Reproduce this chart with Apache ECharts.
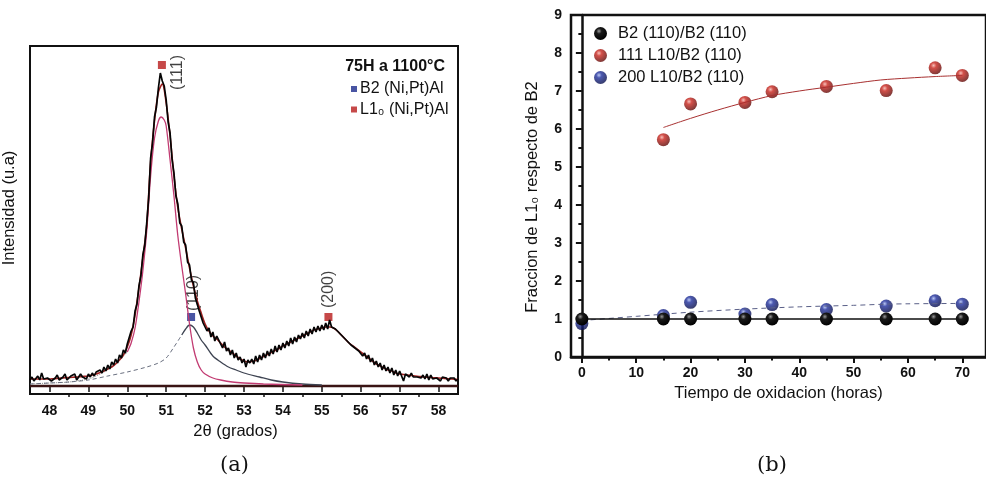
<!DOCTYPE html>
<html>
<head>
<meta charset="utf-8">
<script src="https://cdn.jsdelivr.net/npm/echarts@6/dist/echarts.min.js"></script>
<style>
  html, body { margin: 0; padding: 0; background: #fff; }
  #chart { width: 986px; height: 480px; }
</style>
</head>
<body>
<div id="chart"></div>
<script>
// ---------- (a) XRD pattern, 75 h at 1100 °C ----------
const thetaStart = 47.5;
const thetaStep = 0.05;
// measured intensity, one value every 0.05°
const xrdCounts = [
  6, 9, 5, 7, 10, 6, 13, 7, 5, 8,
  9, 5, 7, 8, 11, 6, 7, 9, 12, 6, 7, 10, 8, 12, 6, 9, 12, 9, 10, 7,
  12, 9, 13, 10, 14, 12, 16, 13, 19, 15, 21, 17, 24, 21, 27, 23, 31, 28, 36, 33,
  42, 44, 55, 59, 75, 82, 100, 110, 131, 141, 163, 188, 228, 243, 269, 279, 298, 313, 305, 300,
  286, 264, 253, 227, 213, 190, 182, 163, 160, 144, 141, 124, 121, 106, 103, 88, 89, 75, 77, 63,
  65, 55, 58, 49, 54, 45, 50, 46, 45, 38, 44, 35, 38, 31, 36, 28, 33, 26, 29, 23,
  27, 19, 26, 23, 27, 22, 30, 24, 31, 26, 33, 28, 35, 30, 37, 32, 40, 34, 41, 36,
  43, 38, 45, 40, 48, 42, 49, 44, 51, 47, 53, 48, 55, 50, 57, 52, 59, 54, 60, 55,
  61, 56, 63, 57, 66, 59, 58, 57, 56, 53, 52, 49, 48, 45, 44, 41, 41, 38, 38, 35,
  37, 30, 33, 27, 31, 24, 28, 21, 25, 19, 23, 16, 21, 15, 19, 13, 18, 11, 16, 10,
  15, 10, 5, 12, 13, 9, 13, 9, 11, 9, 10, 8, 11, 7, 12, 6, 11, 7, 9, 8,
  10, 5, 9, 7, 8, 5, 8, 6, 8, 5, 7
];
// cumulative peak fit, one value every 0.1°
const fitStep = 0.1;
const cumulativeFit = [
  7, 7, 7, 7, 7,
  7, 7.3, 7.6, 8, 8.2, 8.5, 8.8, 9, 9.3, 9.6,
  10, 11, 12, 13.5, 15, 17, 19, 22, 26, 31,
  39, 51, 71, 98, 128, 161, 224, 265, 294, 302,
  283, 250, 210, 178, 157, 138, 118, 100, 85, 73,
  62, 55, 50, 47, 43, 39, 36, 33, 30, 27,
  25, 24, 24.5, 25.5, 27.5, 29.5, 31.5, 33.5, 35.5, 37.5,
  40, 42, 44, 46, 48, 50, 52, 54, 56, 57,
  58, 59, 59, 58, 55, 51, 47, 43, 40, 37,
  34, 31, 28, 25, 22, 20, 18, 16, 15, 13,
  12, 11.5, 11, 10.5, 10, 9.5, 9, 8.8, 8.5, 8.2,
  8, 7.7, 7.4, 7.1, 6.8, 6.5
];
// L1₀ (111) component
const l10TailTheta = [47.5, 48.0, 48.5, 49.0, 49.2, 49.4, 49.6, 49.8, 50.0];
const l10TailValue = [2, 3, 4, 7, 10, 14, 19, 26, 34];
const l10PeakTheta = [50.0, 50.1, 50.2, 50.3, 50.4, 50.5, 50.6, 50.7, 50.8, 50.87, 50.95, 51.0, 51.1, 51.2, 51.3, 51.4, 51.5, 51.6, 51.7, 51.8, 51.9, 52.0, 52.2, 52.4, 52.7, 53.0, 53.5, 54.5];
const l10PeakValue = [34, 43, 58, 84, 115, 155, 210, 248, 265, 269, 266, 260, 226, 190, 150, 120, 92, 62, 38, 24, 16, 12, 8, 6, 4, 3, 2, 1];
// B2 (110) component
const b2LeftTheta = [47.5, 48.0, 48.5, 49.0, 49.5, 50.0, 50.5, 50.8, 51.0, 51.2, 51.4];
const b2LeftValue = [2, 3, 4, 6, 10, 14, 19, 23, 28, 39, 51];
const b2RightTheta = [51.4, 51.5, 51.6, 51.7, 51.8, 51.9, 52.0, 52.2, 52.4, 52.6, 52.8, 53.0, 53.4, 53.7, 54.0, 54.5, 55.0];
const b2RightValue = [51, 57, 61, 59, 53, 46, 41, 30, 24, 19, 16, 13, 9, 6, 4, 2, 1];
// reflection markers
const l10PeakLabels = ['(111)', '(200)'];
const l10PeakPos = [[50.89, 321], [55.17, 69]];
const b2PeakLabels = ['(110)'];
const b2PeakPos = [[51.64, 69]];
const thetaTicks = [48, 49, 50, 51, 52, 53, 54, 55, 56, 57, 58];
const thetaMinorTicks = [48.5, 49.5, 50.5, 51.5, 52.5, 53.5, 54.5, 55.5, 56.5, 57.5];

// ---------- (b) L1₀ fraction vs oxidation time ----------
const hours = [0, 15, 20, 30, 35, 45, 56, 65, 70];
const ratioB2 = [1, 1, 1, 1, 1, 1, 1, 1, 1];
const ratio111 = [null, 5.72, 6.66, 6.70, 6.98, 7.12, 7.01, 7.61, 7.41];
const ratio200 = [0.88, 1.09, 1.44, 1.13, 1.38, 1.25, 1.34, 1.48, 1.39];
const fit111Hours = [15, 20, 25, 30, 35, 40, 45, 50, 55, 60, 65, 70];
const fit111Value = [6.04, 6.28, 6.50, 6.70, 6.88, 7.00, 7.10, 7.20, 7.29, 7.34, 7.38, 7.41];
const fit200Hours = [0, 10, 20, 30, 40, 50, 56, 60, 70];
const fit200Value = [0.96, 1.07, 1.18, 1.26, 1.32, 1.36, 1.39, 1.40, 1.41];
const hourTicks = [0, 10, 20, 30, 40, 50, 60, 70];
const hourMinorTicks = [5, 15, 25, 35, 45, 55, 65];

const FONT = "'Liberation Sans', Arial, sans-serif";
const zip = (xs, ys) => xs.map((x, i) => [x, ys[i]]);
const xrdData = xrdCounts.map((v, i) => [+(thetaStart + i * thetaStep).toFixed(2), v]);
const fitData = cumulativeFit.map((v, i) => [+(thetaStart + i * fitStep).toFixed(2), v]);

const sphere = (light, mid, dark) => ({
  type: 'radial', x: 0.38, y: 0.32, r: 0.7,
  colorStops: [{ offset: 0, color: light }, { offset: 0.3, color: mid }, { offset: 1, color: dark }]
});
const blackBall = sphere('#9a9a9a', '#1a1a1a', '#000000');
const redBall = sphere('#f4b0a8', '#c8241c', '#5e0806');
const blueBall = sphere('#a8b8f0', '#1f2f9c', '#060c48');

// label offsets for the rotated reflection indices
const l10LabelOffsets = [[20, 29], [4, -5]];
const b2LabelOffsets = [[7, -2]];
const markerItems = (pos, labels, offsets) => pos.map((p, i) => ({
  value: p,
  label: { show: true, formatter: labels[i], position: offsets[i] }
}));
const markerLabel = {
  rotate: 90, align: 'left', verticalAlign: 'middle',
  fontFamily: FONT, fontSize: 16, color: '#111'
};
const nameStyle = { fontFamily: FONT, fontSize: 16.5, color: '#111' };

const chart = echarts.init(document.getElementById('chart'), null, { renderer: 'canvas' });
const option = {
  animation: false,
  backgroundColor: '#fff',
  textStyle: { fontFamily: FONT },
  title: {
    text: '75H a 1100°C',
    right: 536, top: 54,
    textStyle: { fontFamily: FONT, fontSize: 16, fontWeight: 'bold', color: '#111' }
  },
  legend: [
    {
      data: ['B2 (Ni,Pt)Al', 'L1₀ (Ni,Pt)Al'],
      orient: 'vertical', left: 346, top: 76, itemGap: 4.5,
      icon: 'rect', itemWidth: 6, itemHeight: 6,
      textStyle: { fontFamily: FONT, fontSize: 16, color: '#111', padding: [0, 0, 0, -2] }
    },
    {
      data: ['B2 (110)/B2 (110)', '111 L10/B2 (110)', '200 L10/B2 (110)'],
      orient: 'vertical', left: 589, top: 20, itemGap: 5,
      icon: 'circle', itemWidth: 13, itemHeight: 13,
      textStyle: { fontFamily: FONT, fontSize: 16.5, color: '#111', padding: [0, 0, 0, 6] }
    }
  ],
  grid: [
    { left: 29, top: 46, width: 429, height: 348, show: true, borderColor: '#111', borderWidth: 2, backgroundColor: 'transparent' },
    { left: 571, top: 15, width: 420, height: 342, show: true, borderColor: '#111', borderWidth: 2.5, backgroundColor: 'transparent' }
  ],
  xAxis: [
    {
      gridIndex: 0, type: 'value', position: 'bottom', min: 47.5, max: 58.5,
      name: '2θ (grados)', nameLocation: 'middle', nameGap: 24,
      nameTextStyle: Object.assign({ padding: [0, 17, 0, 0] }, nameStyle),
      axisLine: { show: true, lineStyle: { color: '#111', width: 2 } },
      axisTick: { show: true, inside: false, length: 6, customValues: thetaTicks, lineStyle: { color: '#111', width: 1.5 } },
      axisLabel: { customValues: thetaTicks, margin: 10, fontFamily: FONT, fontSize: 14, fontWeight: 'bold', color: '#111' },
      splitLine: { show: false }
    },
    {
      gridIndex: 0, type: 'value', position: 'bottom', min: 47.5, max: 58.5,
      axisLine: { show: false },
      axisTick: { show: true, length: 3, customValues: thetaMinorTicks, lineStyle: { color: '#111', width: 1.5 } },
      axisLabel: { show: false }, splitLine: { show: false }
    },
    {
      gridIndex: 1, type: 'value', position: 'bottom', min: -2, max: 74.36,
      name: 'Tiempo de oxidacion (horas)', nameLocation: 'middle', nameGap: 23,
      nameTextStyle: nameStyle,
      axisLine: { show: true, lineStyle: { color: '#111', width: 2.5 } },
      axisTick: { show: true, length: 6, customValues: hourTicks, lineStyle: { color: '#111', width: 2 } },
      axisLabel: { customValues: hourTicks, margin: 9, fontFamily: FONT, fontSize: 14, fontWeight: 'bold', color: '#111' },
      splitLine: { show: false }
    },
    {
      gridIndex: 1, type: 'value', position: 'bottom', min: -2, max: 74.36,
      axisLine: { show: false },
      axisTick: { show: true, length: 3.5, customValues: hourMinorTicks, lineStyle: { color: '#111', width: 2 } },
      axisLabel: { show: false }, splitLine: { show: false }
    }
  ],
  yAxis: [
    {
      gridIndex: 0, type: 'value', min: -8, max: 340,
      name: 'Intensidad (u.a)', nameLocation: 'middle', nameGap: 12,
      nameTextStyle: Object.assign({ padding: [0, 0, 0, 24] }, nameStyle),
      axisLine: { show: false }, axisTick: { show: false }, axisLabel: { show: false }, splitLine: { show: false }
    },
    {
      gridIndex: 1, type: 'value', min: 0, max: 9, interval: 1,
      name: 'Fraccion de L1₀ respecto de B2', nameLocation: 'middle', nameGap: 30,
      nameTextStyle: Object.assign({ padding: [0, 22, 0, 0] }, nameStyle),
      axisLine: { show: true, lineStyle: { color: '#111', width: 2.5 } },
      axisTick: { show: true, length: 6, lineStyle: { color: '#111', width: 2 } },
      minorTick: { show: true, splitNumber: 2, length: 3.5, lineStyle: { color: '#111', width: 2 } },
      axisLabel: { margin: 9, fontFamily: FONT, fontSize: 14, fontWeight: 'bold', color: '#111' },
      splitLine: { show: false }
    }
  ],
  series: [
    // ---- panel (a) ----
    {
      name: 'baseline', type: 'line', xAxisIndex: 0, yAxisIndex: 0,
      data: [[47.5, 0], [58.5, 0]], symbol: 'none', silent: true,
      lineStyle: { color: '#3a1414', width: 2.5 }
    },
    {
      name: 'L10 tail', type: 'line', xAxisIndex: 0, yAxisIndex: 0,
      data: zip(l10TailTheta, l10TailValue), symbol: 'none', smooth: 0.3,
      lineStyle: { color: '#8a8a8a', width: 1, type: 'dotted' }
    },
    {
      name: 'B2 tail', type: 'line', xAxisIndex: 0, yAxisIndex: 0,
      data: zip(b2LeftTheta, b2LeftValue), symbol: 'none', smooth: 0.3,
      lineStyle: { color: '#6a7080', width: 1, type: [4, 3] }
    },
    {
      name: 'B2 fit', type: 'line', xAxisIndex: 0, yAxisIndex: 0,
      data: zip(b2RightTheta, b2RightValue), symbol: 'none', smooth: 0.3,
      lineStyle: { color: '#3e4452', width: 1.3 }
    },
    {
      name: 'L10 fit', type: 'line', xAxisIndex: 0, yAxisIndex: 0,
      data: zip(l10PeakTheta, l10PeakValue), symbol: 'none', smooth: 0.3,
      lineStyle: { color: '#c23b72', width: 1.3 }
    },
    {
      name: 'cumulative fit', type: 'line', xAxisIndex: 0, yAxisIndex: 0,
      data: fitData, symbol: 'none', smooth: 0.3,
      lineStyle: { color: '#a02020', width: 1.6 }
    },
    {
      name: 'XRD', type: 'line', xAxisIndex: 0, yAxisIndex: 0,
      data: xrdData, symbol: 'none',
      lineStyle: { color: '#050505', width: 1.7 }
    },
    {
      name: 'B2 (Ni,Pt)Al', type: 'scatter', xAxisIndex: 0, yAxisIndex: 0,
      symbol: 'rect', symbolSize: 8,
      itemStyle: { color: '#1c2a8c' },
      label: markerLabel,
      data: markerItems(b2PeakPos, b2PeakLabels, b2LabelOffsets)
    },
    {
      name: 'L1₀ (Ni,Pt)Al', type: 'scatter', xAxisIndex: 0, yAxisIndex: 0,
      symbol: 'rect', symbolSize: 8,
      itemStyle: { color: '#b81c1c' },
      label: markerLabel,
      data: markerItems(l10PeakPos, l10PeakLabels, l10LabelOffsets)
    },
    // ---- panel (b) ----
    {
      name: 'fit 200', type: 'line', xAxisIndex: 2, yAxisIndex: 1,
      data: zip(fit200Hours, fit200Value), symbol: 'none', smooth: 0.3,
      lineStyle: { color: '#5a6088', width: 1, type: [5, 4] }
    },
    {
      name: 'fit 111', type: 'line', xAxisIndex: 2, yAxisIndex: 1,
      data: zip(fit111Hours, fit111Value), symbol: 'none', smooth: 0.3,
      lineStyle: { color: '#a83030', width: 1 }
    },
    {
      name: 'B2 (110)/B2 (110)', type: 'line', xAxisIndex: 2, yAxisIndex: 1,
      data: zip(hours, ratioB2), symbol: 'circle', symbolSize: 13,
      itemStyle: { color: blackBall },
      lineStyle: { color: '#111', width: 1.5 }
    },
    {
      name: '111 L10/B2 (110)', type: 'scatter', xAxisIndex: 2, yAxisIndex: 1,
      data: zip(hours, ratio111).filter(p => p[1] !== null), symbol: 'circle', symbolSize: 13,
      itemStyle: { color: redBall }
    },
    {
      name: '200 L10/B2 (110)', type: 'scatter', xAxisIndex: 2, yAxisIndex: 1,
      data: zip(hours, ratio200), symbol: 'circle', symbolSize: 13,
      itemStyle: { color: blueBall }
    }
  ],
  graphic: [
    { type: 'text', left: 220, top: 455, style: { text: '(a)', font: "21px 'DejaVu Serif', 'Liberation Serif', serif", fill: '#111' } },
    { type: 'text', left: 757, top: 455, style: { text: '(b)', font: "21px 'DejaVu Serif', 'Liberation Serif', serif", fill: '#111' } }
  ]
};
chart.setOption(option);
</script>
</body>
</html>
